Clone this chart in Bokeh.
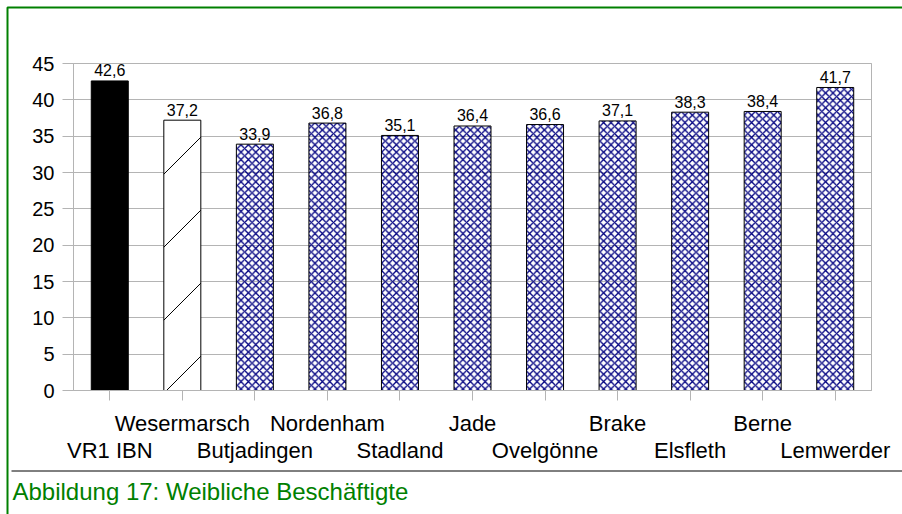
from bokeh.plotting import figure
from bokeh.models import (ColumnDataSource, LabelSet, Label, FixedTicker, Range1d,
                          PolyAnnotation, LinearAxis, Grid, BoxAnnotation)
from bokeh.core.properties import value
from bokeh.embed import file_html
from bokeh.resources import INLINE

# ---- data ----
categories = ["VR1 IBN", "Wesermarsch", "Butjadingen", "Nordenham", "Stadland",
              "Jade", "Ovelgönne", "Brake", "Elsfleth", "Berne", "Lemwerder"]
values = [42.6, 37.2, 33.9, 36.8, 35.1, 36.4, 36.6, 37.1, 38.3, 38.4, 41.7]
y_ticks = [0, 5, 10, 15, 20, 25, 30, 35, 40, 45]
caption = "Abbildung 17: Weibliche Beschäftigte"

# ---- layout constants (canvas pixels) ----
W, H = 902, 514
FL, FR, FT, FB = 73, 871, 63, 390  # plot-area edges
n = len(categories)
idx = list(range(n))
XA, XB = -0.5, n - 0.5
YA, YB = y_ticks[0], y_ticks[-1]
KX = (XB - XA) / (FR - FL)
KY = (YB - YA) / (FB - FT)


def dx(px):
    return XA + (px - FL) * KX


def dy(py):
    return YA + (FB - py) * KY


def px_x(x):
    return FL + (x - XA) / KX


def px_y(y):
    return FB - (y - YA) / KY


FONT = "Liberation Sans"
GRAY = "#b4b4b4"
GREEN = "#008000"
NAVY = "#000080"

p = figure(width=W, height=H, output_backend="svg", toolbar_location=None,
           x_range=Range1d(dx(0), dx(W)), y_range=Range1d(dy(H), dy(0)),
           x_axis_location=None, y_axis_location=None,
           min_border=0, min_border_left=0, min_border_right=0,
           min_border_top=0, min_border_bottom=0)
p.title.visible = False
p.background_fill_color = "white"
p.border_fill_color = "white"
p.outline_line_color = None
p.grid.visible = False

# horizontal grid lines limited to the plot area
p.add_layout(Grid(dimension=1, ticker=FixedTicker(ticks=y_ticks),
                  bounds=(YA, YB), cross_bounds=(XA, XB),
                  grid_line_color=GRAY, grid_line_width=1))

# plot-area border
p.add_layout(BoxAnnotation(left=XA, right=XB, bottom=YA, top=YB, fill_alpha=0,
                           line_color=GRAY, line_alpha=1, line_width=1, level="underlay"))

# y axis
yax = LinearAxis(fixed_location=XA, bounds=(YA, YB), ticker=FixedTicker(ticks=y_ticks))
yax.axis_line_color = GRAY
yax.major_tick_line_color = GRAY
yax.major_tick_out = 11
yax.major_tick_in = 0
yax.minor_tick_line_color = None
yax.major_label_standoff = 8
yax.major_label_text_font = FONT
yax.major_label_text_font_size = "20px"
yax.major_label_text_color = "black"
p.add_layout(yax, "left")

# x axis (ticks only; names are drawn in two staggered rows)
xax = LinearAxis(fixed_location=YA, bounds=(XA, XB), ticker=FixedTicker(ticks=idx))
xax.major_label_overrides = {i: "" for i in idx}
xax.axis_line_color = GRAY
xax.major_tick_line_color = GRAY
xax.major_tick_out = 10
xax.major_tick_in = 0
xax.minor_tick_line_color = None
p.add_layout(xax, "below")

BW = 0.51
p.vbar(x=idx[0:1], top=values[0:1], width=BW, bottom=0,
       fill_color="black", line_color="black", line_width=1)
p.vbar(x=idx[1:2], top=values[1:2], width=BW, bottom=0,
       fill_color="white", line_color="black", line_width=1)
p.vbar(x=idx[2:], top=values[2:], width=BW, bottom=0,
       fill_color=None, line_color="black", line_width=1,
       hatch_pattern="diagonal_cross", hatch_color=NAVY,
       hatch_scale=7.4, hatch_weight=1.3)

# sparse 45-degree "/" hatching of the second bar, derived from the bar's rectangle
STEP, PHASE = 73, 337
bx = idx[1]
L, R = px_x(bx - BW / 2), px_x(bx + BW / 2)
T, B = px_y(values[1]), px_y(0)
x0s, y0s, x1s, y1s = [], [], [], []
c = PHASE - STEP * 10
while c < PHASE + STEP * 10:
    xs_ = max(L, c - B)
    xe_ = min(R, c - T)
    if xe_ - xs_ > 0.5:
        x0s.append(dx(xs_)); y0s.append(dy(c - xs_))
        x1s.append(dx(xe_)); y1s.append(dy(c - xe_))
    c += STEP
p.segment(x0=x0s, y0=y0s, x1=x1s, y1=y1s, line_color="black", line_width=1)

# value labels
val_src = ColumnDataSource(dict(
    x=idx,
    y=[v + 4.5 * KY for v in values],
    t=[f"{v:.1f}".replace(".", ",") for v in values],
))
p.add_layout(LabelSet(x="x", y="y", text="t", source=val_src,
                      text_align="center", text_baseline="alphabetic",
                      text_font=value(FONT), text_font_size=value("16px"),
                      text_color="black"))

# category labels, two staggered rows
cat_src = ColumnDataSource(dict(
    x=idx,
    y=[dy(430) if i % 2 == 1 else dy(457) for i in idx],
    t=categories,
))
p.add_layout(LabelSet(x="x", y="y", text="t", source=cat_src,
                      text_align="center", text_baseline="alphabetic",
                      text_font=value(FONT), text_font_size=value("22px"),
                      text_color="black"))

# separator line and caption
p.add_layout(PolyAnnotation(xs=[dx(11), dx(W + 5)], ys=[dy(470.5), dy(470.5)],
                            line_color="black", line_alpha=1, line_width=1,
                            fill_alpha=0))
p.add_layout(Label(x=dx(12), y=dy(491), text=caption, text_font=FONT,
                   text_font_size="24px", text_color=GREEN,
                   text_align="left", text_baseline="alphabetic"))

# green frame (only top and left edges fall inside the picture)
p.add_layout(PolyAnnotation(xs=[dx(7), dx(7), dx(W + 50), dx(W + 50)],
                            ys=[dy(H + 50), dy(7), dy(7), dy(H + 50)],
                            line_color=GREEN, line_alpha=1, line_width=2,
                            fill_alpha=0))

open("out.html", "w").write(file_html(p, INLINE))
